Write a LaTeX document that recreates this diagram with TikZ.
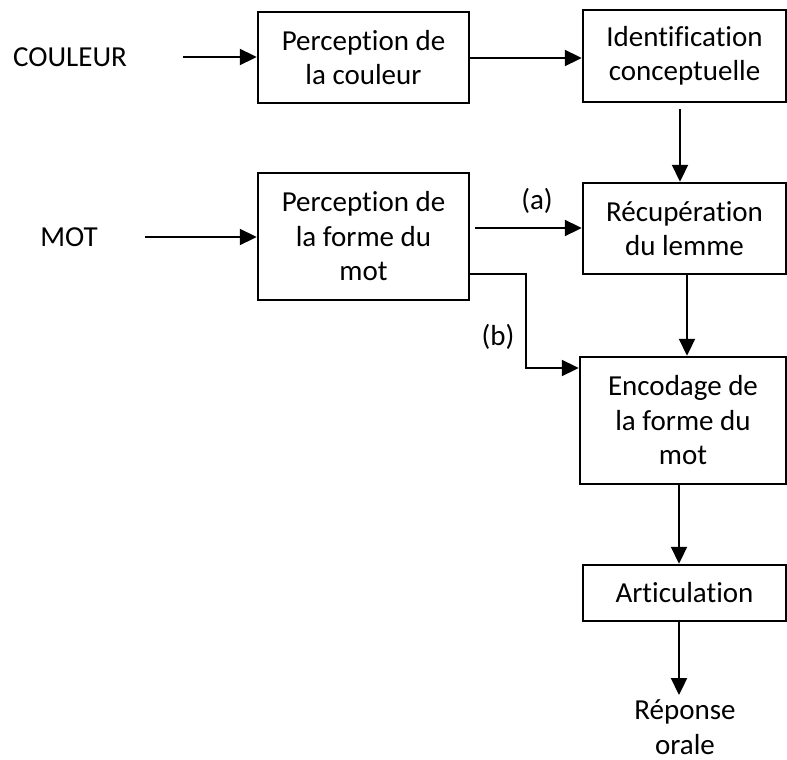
\documentclass[tikz,border=0pt]{standalone}
\usepackage{fontspec}
\setmainfont{Carlito}[RawFeature={-liga}]
\usetikzlibrary{arrows.meta}
\begin{document}
\begin{tikzpicture}[x=1pt,y=-1pt,
  box/.style={draw,line width=2.5pt,align=center,inner sep=0pt,font=\fontsize{29}{34.5}\selectfont},
  lbl/.style={align=center,inner sep=0pt,font=\fontsize{29}{34.5}\selectfont},
  arr/.style={line width=2.3pt,-{Triangle[length=17pt,width=16pt]}}]
\useasboundingbox (0,0) rectangle (787,760);
\node[lbl] (couleur) at (70,57) {COULEUR};
\node[lbl] (mot) at (69,237) {MOT};
\node[box,minimum width=211,minimum height=91] (b1) at (363.5,57.5) {Perception de\\la couleur};
\node[box,minimum width=203,minimum height=92] (b2) at (684.5,56) {Identification\\conceptuelle};
\node[box,minimum width=211,minimum height=127] (b4) at (363.5,236.5) {Perception de\\la forme du\\mot};
\node[box,minimum width=203,minimum height=91] (b3) at (684.5,228.5) {Récupération\\du lemme};
\node[box,minimum width=206,minimum height=127] (b5) at (683,420.5) {Encodage de\\la forme du\\mot};
\node[box,minimum width=203,minimum height=56] (b6) at (684.5,593) {Articulation};
\node[lbl] (rep) at (685,727) {Réponse\\orale};
\node[lbl] (la) at (537,201) {(a)};
\node[lbl] (lb) at (498,337) {(b)};
\coordinate (c0) at (183,57);
\coordinate (m0) at (145,237);
\coordinate (bk) at (526,368);
\coordinate (r0) at (679,695);
\draw[arr] (c0) -- (c0 -| b1.west);
\draw[arr] (m0) -- (m0 -| b4.west);
\draw[arr] (b1.east |- 0,58) -- (b2.west |- 0,58);
\draw[arr,shorten <=6pt] (b2.south -| 680,0) -- (b3.north -| 680,0);
\draw[arr,shorten <=5pt] (b4.east |- 0,228) -- (b3.west |- 0,228);
\draw[arr] (b4.east |- 0,274) -| (bk) -- (bk -| b5.west);
\draw[arr] (b3.south -| 687,0) -- (b5.north -| 687,0);
\draw[arr] (b5.south -| 679,0) -- (b6.north -| 679,0);
\draw[arr] (b6.south -| r0) -- (r0);
\end{tikzpicture}
\end{document}
